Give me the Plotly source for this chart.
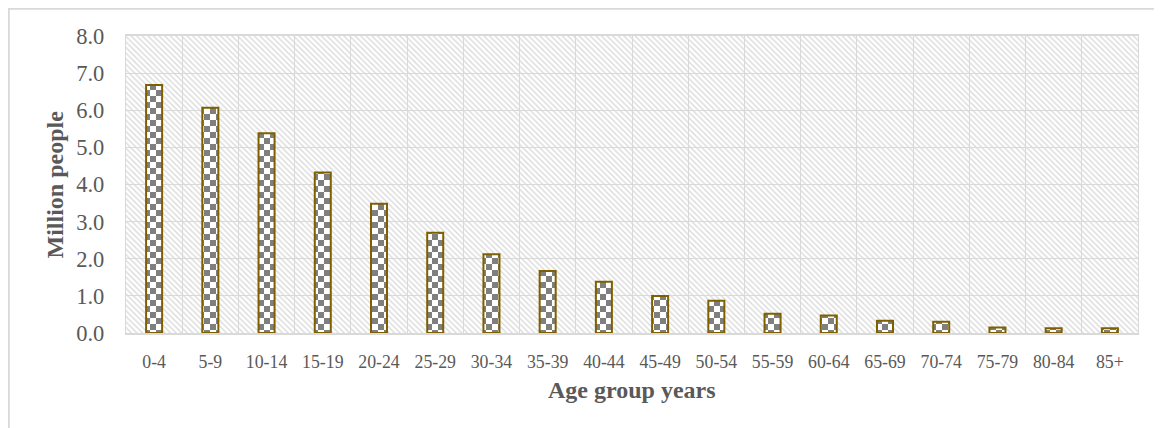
import plotly.graph_objects as go

categories = ["0-4", "5-9", "10-14", "15-19", "20-24", "25-29", "30-34", "35-39", "40-44",
              "45-49", "50-54", "55-59", "60-64", "65-69", "70-74", "75-79", "80-84", "85+"]
million_people = [6.68, 6.07, 5.38, 4.32, 3.48, 2.70, 2.12, 1.67, 1.38,
                  1.00, 0.87, 0.52, 0.47, 0.33, 0.30, 0.15, 0.13, 0.13]
y_ticks = [0, 1, 2, 3, 4, 5, 6, 7, 8]
y_ticktext = [f"{v:.1f}" for v in y_ticks]

# page body adds an 8px offset; compensate so plot area lands at x 126-1138, y 36-333
OFF = 8
W, H = 1162 - OFF, 428 - OFF
PW, PH = 1012, 297
ML, MT = 126 - OFF, 36 - OFF
MR, MB = W - ML - PW, H - MT - PH

GRID = "#D9D9D9"
TXT = "#595959"
FONT = "Liberation Serif"

fig = go.Figure()
fig.add_trace(go.Bar(
    x=categories, y=million_people, width=0.285,
    marker=dict(color="#7F7F7F", line=dict(color="#7F6000", width=2)),
    hoverinfo="x+y",
))

fig.update_layout(
    width=W, height=H,
    margin=dict(l=ML, r=MR, t=MT, b=MB),
    paper_bgcolor="white", plot_bgcolor="#F4F4F4",
    showlegend=False,
    font=dict(family=FONT, color=TXT),
)
fig.update_xaxes(
    type="category", tickson="boundaries", showgrid=True, gridcolor=GRID, gridwidth=1.3,
    showline=True, linecolor=GRID, linewidth=1.5, mirror=True,
    ticks="", tickfont=dict(family=FONT, size=17.8, color=TXT), ticklabelstandoff=12,
)
fig.update_yaxes(
    range=[0, 8], tickvals=y_ticks, ticktext=y_ticktext,
    showgrid=True, gridcolor=GRID, gridwidth=1.3, zeroline=False,
    showline=True, linecolor=GRID, linewidth=1.3, mirror=True,
    ticks="", tickfont=dict(family=FONT, size=22.5, color=TXT), ticklabelstandoff=16,
)

fig.add_annotation(text="<b>Age group years</b>", xref="paper", yref="paper",
                   x=0.5, y=(333 - 390) / PH, xanchor="center", yanchor="middle",
                   showarrow=False, font=dict(family=FONT, size=24, color=TXT))
fig.add_annotation(text="<b>Million people</b>", xref="paper", yref="paper",
                   x=(54 - 126) / PW, y=0.5, xanchor="center", yanchor="middle", textangle=-90,
                   showarrow=False, font=dict(family=FONT, size=24, color=TXT))

# chart-area border (only top and left visible in the frame)
fig.add_shape(type="rect", xref="paper", yref="paper",
              x0=(8.8 - 126) / PW, x1=1.2, y0=-0.6, y1=(333 - 8.8) / PH,
              line=dict(color=GRID, width=2), fillcolor="rgba(0,0,0,0)", layer="below")

post = r"""
var gd = document.getElementById('{plot_id}');
var svg = gd.querySelector('svg.main-svg');
var ns = 'http://www.w3.org/2000/svg';
var defs = svg.querySelector('defs');
if (!defs) { defs = document.createElementNS(ns, 'defs'); svg.insertBefore(defs, svg.firstChild); }
function mk(tag, attrs, parent) { var e = document.createElementNS(ns, tag); for (var k in attrs) e.setAttribute(k, attrs[k]); if (parent) parent.appendChild(e); return e; }
var s = 6;
var chk = mk('pattern', {id: 'chkpat', width: 2*s, height: 2*s, patternUnits: 'userSpaceOnUse'}, defs);
mk('rect', {x: 0, y: 0, width: 2*s, height: 2*s, fill: '#FFFFFF'}, chk);
mk('rect', {x: 0, y: 0, width: s, height: s, fill: '#7F7F7F'}, chk);
mk('rect', {x: s, y: s, width: s, height: s, fill: '#7F7F7F'}, chk);
var h = 5.6;
var hat = mk('pattern', {id: 'hatpat', width: h, height: h, patternUnits: 'userSpaceOnUse'}, defs);
mk('rect', {x: 0, y: 0, width: h, height: h, fill: '#FFFFFF'}, hat);
mk('path', {d: 'M-1,-1L' + (h+1) + ',' + (h+1) + 'M' + (h-1) + ',-1L' + (h+1) + ',1M-1,' + (h-1) + 'L1,' + (h+1),
            stroke: '#DADADA', 'stroke-width': 1.4, fill: 'none'}, hat);
var bgs = gd.querySelectorAll('.bglayer rect.bg');
bgs.forEach(function(r) { r.style.fill = 'url(#hatpat)'; r.setAttribute('fill', 'url(#hatpat)'); });
var pts = gd.querySelectorAll('g.trace.bars g.point path');
pts.forEach(function(p) { p.style.fill = 'url(#chkpat)'; });
"""

fig.write_html("out.html", post_script=post)
